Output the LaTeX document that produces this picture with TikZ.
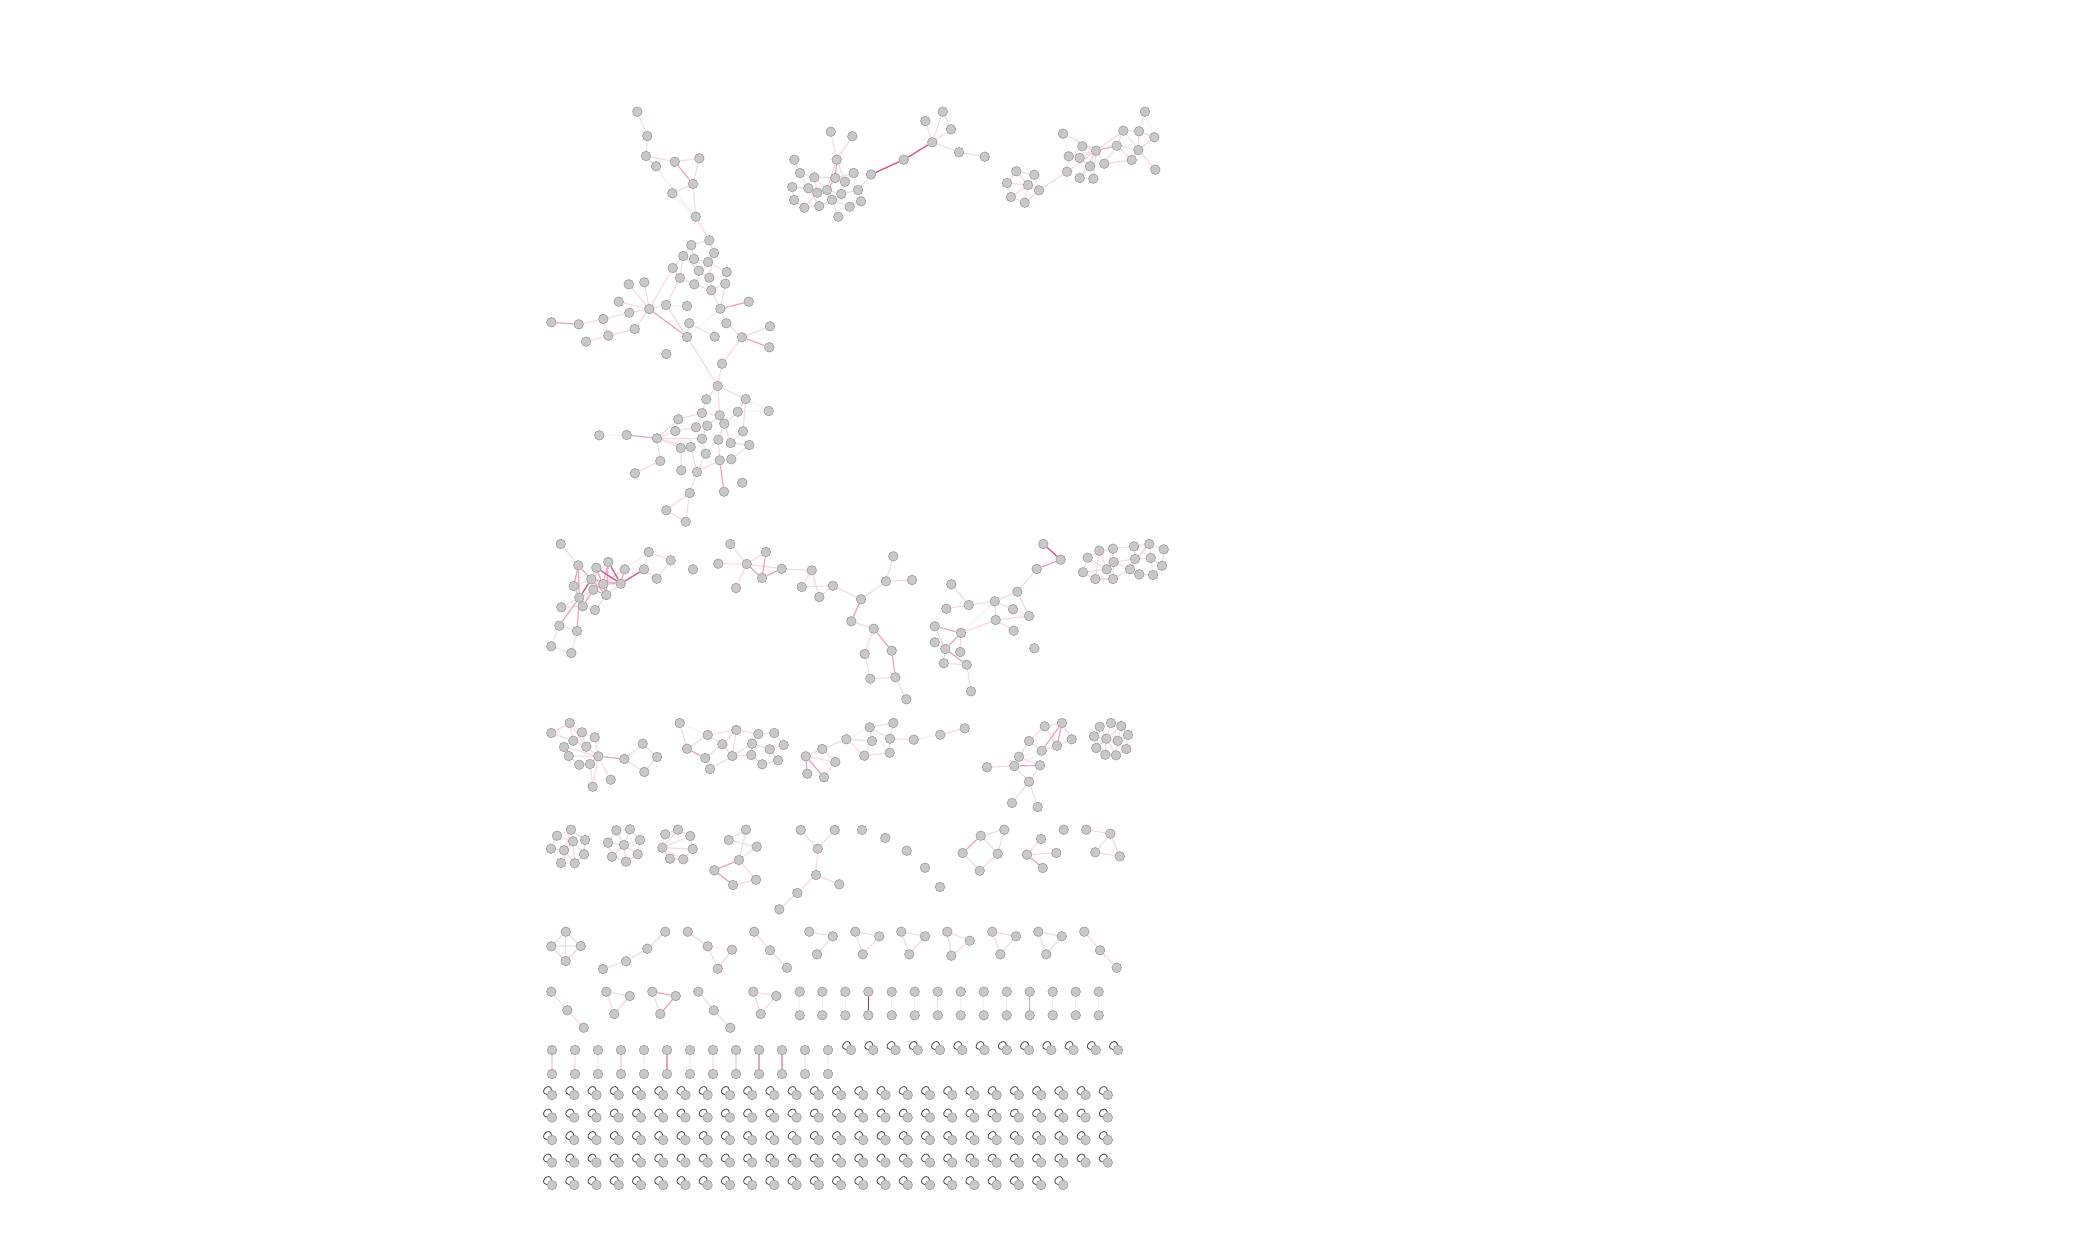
\documentclass[tikz,border=0pt]{standalone}
\pgfdeclarelayer{bg}
\pgfsetlayers{bg,main}
\definecolor{vfill}{HTML}{C8C8C8}
\definecolor{vline}{HTML}{9C9C9C}
\definecolor{pka}{HTML}{FDEDF2}
\definecolor{pkb}{HTML}{FCD6E3}
\definecolor{pkc}{HTML}{F4A0C0}
\definecolor{pkd}{HTML}{E4508C}
\definecolor{pkp}{HTML}{962E8E}
\definecolor{loopc}{HTML}{555555}
\tikzset{
  vtx/.style={circle,fill=vfill,draw=vline,line width=0.6pt,minimum size=9.6pt,inner sep=0pt},
  ea/.style={draw=pka,line width=1.1pt},
  eb/.style={draw=pkb,line width=1.1pt},
  ec/.style={draw=pkc,line width=1.2pt},
  ed/.style={draw=pkd,line width=1.3pt},
  ep/.style={draw=pkp,line width=1.4pt},
  lp/.style={draw=loopc,line width=0.9pt}
}
\begin{document}
\begin{tikzpicture}[x=1pt,y=-1pt]
\useasboundingbox (0,0) rectangle (2100,1233);
% ---------------- vertices ----------------
\foreach \n/\x/\y in {
A1/637.3/111.7, A2/647.3/136, A3/646/156, A4/656/166.3, A5/674.7/161.7, A6/699.3/158.3, A7/693/184, A8/672.3/193.3, A9/695.7/216.7,
B1/709.3/240.3, B2/691.3/245, B3/714/253, B4/683.3/256, B5/694/259, B6/708/262, B7/672.7/268, B8/698.7/270.7, B9/726.7/272, B10/680/278, B11/709.3/277.7, B12/694.3/284.3, B13/725.3/283.7, B14/711.3/290.3, B15/628.7/284.3, B16/644.3/282.3, B17/618.7/301.7, B18/649.3/309, B19/666/305, B20/687/306, B21/720.3/308.7, B22/748.7/301.7, B23/629.3/312.7, B24/603.3/319, B25/578.7/324.3, B26/551.3/322.3, B27/689.3/323.3, B28/726.3/323.3, B29/634.7/329, B30/608.3/335.7, B31/586/341.7, B32/687/337, B33/714.7/336.7, B34/742/337.3, B35/770/326.3, B36/769.3/347.3, B37/666.3/354, B38/722/363.7,
C1/717.7/386, C2/706.3/399.3, C3/745.7/399, C4/702/413, C5/719.7/415.3, C6/737.7/411.7, C7/768.7/411, C8/678.3/419.3, C9/696/427.3, C10/707.3/425.7, C11/724.3/423.7, C12/675.3/431, C13/657/438.3, C14/626.7/435, C15/599.3/435.3, C16/702/438.7, C17/718.3/439.7, C18/730.7/443, C19/743/431.3, C20/749.3/445, C21/680.7/448, C22/690.7/447, C23/705.7/453.7, C24/719.7/460.3, C25/731.3/459.3, C26/660.3/461, C27/635/473.3, C28/681.3/470.3, C29/697/472, C30/724/491.7, C31/742.3/482.7, C32/689.7/493, C33/666.3/510.3, C34/685.7/521.7,
D1/830.7/131.7, D2/852.3/136.3, D3/794.3/159.7, D4/836.7/159.7, D5/800/173, D6/814.3/177.3, D7/835.3/178, D8/853.7/173, D9/845/181.7, D10/792.3/187, D11/808.3/188.3, D12/817.3/192.7, D13/827/190, D14/841.3/194, D15/858/190, D16/794/200, D17/804.3/207.7, D18/819.3/206, D19/832/199.7, D20/849.7/206.7, D21/861/201.3, D22/838.3/216.7, D23/871/174.5,
E1/903.7/159.7, E2/932.3/142.3, E3/925.3/121, E4/942.7/111.7, E5/951/129.3, E6/959/152.3, E7/984.7/156.7,
F1/1016.3/171.3, F2/1034.3/174.7, F3/1007/183, F4/1028/185, F5/1039/190.3, F6/1011/197, F7/1024.7/202.7,
G1/1063/133.7, G2/1082.3/146.3, G3/1096/150.7, G4/1068.7/156.3, G5/1079.7/158, G6/1090/166.3, G7/1104.3/163.7, G8/1067/171.7, G9/1079.7/178, G10/1093.3/178.7, G11/1123.3/130.7, G12/1139/131.3, G13/1154.3/137.3, G14/1145/111.7, G15/1116.7/145.7, G16/1138.3/150, G17/1131.7/160, G18/1155.3/169.7,
H1/560.7/544, H2/578.3/565.3, H3/596.3/567.7, H4/608.3/562, H5/624.7/569.3, H6/644/569.3, H7/648.7/552, H8/670.7/560.3, H9/656.7/578.7, H10/573.7/586, H11/591.3/579.3, H12/603.3/584, H13/593.3/589.7, H14/620.7/583.7, H15/579.3/597.7, H16/606.3/595, H17/561.3/607.3, H18/582.7/606.3, H19/595/610, H20/559.3/625.7, H21/577/631, H22/551.3/646.3, H23/571.3/653,
I1/693/569.3,
J1/718.3/563.7, J2/730.3/544, J3/746.7/564, J4/766/552, J5/762/578, J6/781.7/568.7, J7/736/588,
K1/811.7/570.3, K2/801.7/587, K3/819.3/597, K4/833/585.7, K5/861/599.3, K6/851.3/621.3, K7/893.3/556.3, K8/886/581.3, K9/912/580, K10/873.7/628.7, K11/864.7/654, K12/891.7/650.7, K13/870.3/678.7, K14/895.3/677.3, K15/906.3/699.3,
L1/951.3/584.3, L2/946.3/608.7, L3/968.7/605, L4/994.7/601.3, L5/1017.3/591.7, L6/1013/609.3, L7/1029/616, L8/995.7/620, L9/1013.7/630.7, L10/934.7/626.3, L11/961/633, L12/934.7/642.3, L13/945.3/649, L14/960.3/652, L15/943.7/663.3, L16/966.7/664.7, L17/971/691.3, L18/1034.3/648.3, L19/1043.3/544, L20/1060.7/559.7, L21/1036.7/569,
M1/1087.7/557.7, M2/1099.3/550.7, M3/1113/548.7, M4/1134/546.3, M5/1149.3/544, M6/1163.7/549.3, M7/1113.7/562, M8/1135/559, M9/1150.7/558, M10/1162/565.7, M11/1083/572.3, M12/1095.3/579, M13/1106.7/569.3, M14/1113/579, M15/1130/569.3, M16/1139.3/574.3, M17/1153/575,
N1/551.3/733, N2/569.7/723, N3/582/732.3, N4/573.3/740.7, N5/594.7/737.3, N6/564/747, N7/586.3/746.7, N8/568.7/756, N9/598.3/756.3, N10/579.3/764.7, N11/590/764, N12/610.7/779.7, N13/592.7/786.7, N14/624.3/759, N15/642.7/743.7, N16/657/757, N17/644.3/772,
O1/679.7/723, O2/687/748.7, O3/707.7/735, O4/736.3/730, O5/722.3/744.3, O6/705.3/758, O7/732.3/756, O8/710/769, O9/758.3/734, O10/774.3/733, O11/752/743.7, O12/769.7/749.3, O13/783.7/745, O14/751.3/755, O15/762.3/764.3, O16/778/760.3,
P1/822.3/749, P2/846.3/739.3, P3/805.7/756.3, P4/835.3/762, P5/807.3/773.7, P6/824/777.3, P7/869.7/727.3, P8/893.3/723, P9/872/741, P10/890/738.7, P11/913.7/739.7, P12/864.3/755.7, P13/889.7/752.7, Q1/940.3/734.7, Q2/964.7/728.3,
R1/1044.7/726.3, R2/1062/723, R3/1029/741, R4/1071.7/739.3, R5/1041.7/750.7, R6/1057/745.7, R7/1019/756.7, R8/987/767.3, R9/1014.3/766, R10/1040/765.3, R11/1029/781.7, R12/1012/803, R13/1037.7/807,
S1/1099.7/726.7, S2/1111/723, S3/1121.3/726, S4/1094/736.3, S5/1106.3/738.7, S6/1117.7/740.7, S7/1128/735, S8/1096.3/748, S9/1105.3/754.7, S10/1116/755.3, S11/1126.3/749,
T1/571/829.7, T2/557/835.7, T3/573/841.3, T4/585/840, T5/551/848.7, T6/564/850.3, T7/584/854.3, T8/561/863, T9/574.7/863.3,
U1/616.3/830.3, U2/630/829.3, U3/608/842.7, U4/624/845, U5/640/840, U6/612/856.7, U7/637.7/854.3, U8/626/861.7,
V1/665.3/834.3, V2/678/829.7, V3/690.3/836, V4/662.3/847.7, V5/692.7/849, V6/670/858.7, V7/683.3/859.3,
W1/746/829.7, W2/728.7/840, W3/756.7/846.7, W4/739/860, W5/714.3/870.3, W6/756/879.7, W7/733/885,
X1/800.7/830, X2/834.7/830, X3/817.7/848.7, X4/816/875, X5/839.3/884.3, X6/797.3/893, X7/779.3/909.3,
Y1/862/830, Y2/885.3/838, Y3/906.7/850.7, Y4/925/867.7, Y5/940/887,
Z1/980.7/835.7, Z2/1004.3/829.7, Z3/962.7/853, Z4/997.7/853.7, Z5/979.7/870.7,
AA1/1041/839, AA2/1027/854.7, AA3/1056.3/853, AA4/1042.7/868, AB1/1063.7/829.7,
AC1/1086.3/829.7, AC2/1110.3/833.7, AC3/1095.3/852.3, AC4/1119.7/856.3,
BA1/565.7/931.7, BA2/551.3/946.3, BA3/580.7/946, BA4/565.7/961,
BB1/665.3/931.7, BB2/647.3/948.7, BB3/626/961.3, BB4/603/969,
BC1/687.7/931.7, BC2/707.7/946.3, BC3/732/949.7, BC4/717.7/968.7,
BD1/754.3/931.7, BD2/770/950.3, BD3/787/967.7,
BE1/809.3/931.7, BE2/832.7/936.3, BE3/817/954.3,
BF1/855.3/931.7, BF2/879.3/936.3, BF3/862.7/954.3,
BG1/901.3/931.7, BG2/925/936.3, BG3/909.3/954.3,
BH1/947.3/931.7, BH2/969.7/940.7, BH3/951.3/955.7,
BI1/992.3/931.7, BI2/1016/936.3, BI3/1000.3/954.3,
BJ1/1038.3/931.7, BJ2/1061.7/936.3, BJ3/1046.3/954.3,
BK1/1084.3/931.7, BK2/1100/950.3, BK3/1116.7/967.7,
CA1/551.3/991.7, CA2/567.3/1010.3, CA3/583.7/1027.7,
CB1/606.3/991.7, CB2/629.7/996, CB3/614.3/1014,
CC1/652.3/991.7, CC2/675.7/996, CC3/660.3/1014,
CD1/698.3/991.7, CD2/713.7/1010.3, CD3/730.3/1027.7,
CE1/753.3/991.7, CE2/776.3/996, CE3/760.7/1014}
  {\node[vtx] (\n) at (\x,\y) {};}
% pairs, second row
\foreach \k/\x in {1/799.7,2/822.3,3/845.3,4/868.3,5/891.7,6/914.7,7/937.7,8/960.7,9/983.7,10/1006.7,11/1029.7,12/1052.7,13/1075.7,14/1098.7}
  {\node[vtx] (pt\k) at (\x,991.7) {}; \node[vtx] (pb\k) at (\x,1015.3) {};}
% pairs, third row
\foreach \k in {0,...,12}
  {\node[vtx] (qt\k) at ({552+23*\k},1050) {}; \node[vtx] (qb\k) at ({552+23*\k},1074) {};}
% self loops, first row
\foreach \k in {0,...,12}
  {\node[vtx] (sl\k) at ({851+22.25*\k},1050) {};
   \draw[lp] (sl\k.95) .. controls +(-2,-9) and +(-9,-2) .. (sl\k.175);}
% self loops, grid
\foreach \rr/\yy/\nn in {1/1095/25,2/1117.5/25,3/1140/25,4/1162.5/25,5/1185/23}
  {\foreach \k in {0,...,\nn}
    {\node[vtx] (g\rr x\k) at ({552+22.23*\k},\yy) {};
     \draw[lp] (g\rr x\k.95) .. controls +(-2,-9) and +(-9,-2) .. (g\rr x\k.175);}}
% ---------------- edges ----------------
\begin{pgfonlayer}{bg}
\fill[white] (0,0) rectangle (2100,1233);
\foreach \a/\b in {A8/A9, C3/C7, C6/C7, C14/C15, P11/Q1, H5/H7, B21/B32, B19/B20, A3/A9, B12/B8, B5/B13,
  D8/D23, G1/G4, G13/G14, L4/L11, P7/P13, P2/P7, R5/R7, R6/R9, O1/O3, BC2/BC3, S8/S10, S2/S6,
  qt1/qb1, qt2/qb2, qt4/qb4, qt6/qb6, qt7/qb7, qt11/qb11, qt12/qb12,
  pt1/pb1, pt2/pb2, pt3/pb3, pt5/pb5, pt6/pb6, pt8/pb8, pt9/pb9, pt10/pb10, pt12/pb12, pt13/pb13, pt14/pb14}
  {\draw[ea] (\a) -- (\b);}
\foreach \a/\b in {
  A1/A2, A2/A3, A3/A4, A3/A5, A5/A6, A6/A7, A7/A8, A7/A9, A9/B1, B1/B2, B1/B3, B2/B4, B2/B5, B3/B6, B4/B7, B4/B8, B5/B6, B5/B8, B6/B9, B7/B10, B8/B11, B3/B11, B9/B13, B10/B12, B11/B14, B12/B14, B13/B14, B6/B12, B4/B10, B10/B19, B7/B18, B15/B18, B16/B18, B17/B18, B18/B19, B18/B29, B23/B24, B23/B18, B24/B25, B24/B30, B30/B31, B29/B30, B19/B32, B27/B33, B32/B27, B21/B28, B21/B14, B28/B34, B34/B35, B34/B38, B38/C1, B32/C1, B13/B21,
  C1/C2, C1/C3, C1/C5, C2/C4, C3/C6, C3/C19, C4/C5, C4/C8, C4/C9, C5/C10, C5/C11, C6/C11, C8/C13, C9/C10, C10/C16, C11/C17, C11/C18, C12/C13, C13/C21, C13/C22, C13/C16, C13/C26, C16/C23, C17/C24, C18/C20, C19/C18, C21/C28, C22/C29, C23/C29, C25/C20, C26/C27, C29/C32, C32/C33, C32/C34, C33/C34, C24/C25, C29/C24, C12/C8, C9/C12,
  D1/D4, D2/D4, D3/D5, D4/D13, D4/D9, D5/D6, D5/D11, D6/D7, D6/D13, D7/D8, D7/D9, D9/D14, D10/D11, D10/D16, D11/D12, D12/D13, D13/D14, D13/D19, D14/D15, D15/D21, D16/D17, D17/D18, D18/D19, D19/D20, D20/D21, D19/D22, D12/D17, D11/D18, D15/D23, D6/D12,
  E2/E3, E2/E4, E2/E5, E4/E5, E2/E6, E6/E7,
  F1/F2, F1/F3, F1/F4, F2/F4, F2/F5, F3/F4, F3/F6, F4/F5, F4/F6, F4/F7, F5/F7, F6/F7, F5/G8,
  G3/G1, G3/G2, G3/G4, G3/G5, G3/G6, G3/G8, G3/G9, G3/G10, G3/G7, G3/G11, G4/G5, G4/G8, G5/G6, G6/G9, G7/G17, G7/G15, G11/G12, G11/G15, G11/G16, G12/G13, G12/G14, G12/G16, G13/G16, G15/G16, G16/G17, G16/G18, G15/G17,
  H1/H2, H3/H11, H3/H12, H4/H11, H5/H12, H5/H13, H6/H7, H7/H8, H8/H9, H6/H9, H10/H11, H11/H12, H11/H13, H13/H15, H14/H16, H15/H17, H17/H18, H18/H19, H16/H19, H20/H21, H22/H23, H21/H23, H3/H13, H20/H22,
  J1/J3, J2/J3, J3/J4, J3/J6, J3/J7, J6/K1,
  K1/K2, K1/K3, K2/K4, K4/K5, K5/K8, K8/K7, K8/K9, K6/K10, K10/K11, K11/K13, K13/K14, K14/K15, K3/K4,
  L1/L3, L2/L3, L3/L4, L4/L5, L4/L6, L4/L8, L5/L7, L6/L7, L8/L7, L8/L9, L5/L21, L10/L13, L12/L13, L11/L14, L15/L16, L16/L17, L13/L15, L11/L8,
  M1/M2, M1/M11, M1/M13, M2/M3, M2/M13, M2/M12, M3/M4, M3/M7, M4/M5, M4/M8, M5/M6, M5/M9, M5/M8, M5/M15, M6/M10, M7/M13, M7/M8, M7/M14, M8/M9, M8/M15, M9/M10, M9/M17, M10/M17, M11/M12, M11/M13, M12/M14, M13/M14, M14/M15, M15/M16, M16/M17, M7/M15, M3/M13,
  N1/N2, N1/N4, N2/N3, N2/N4, N2/N7, N3/N5, N3/N7, N4/N6, N4/N7, N5/N7, N5/N9, N6/N8, N6/N9, N7/N9, N8/N10, N8/N9, N9/N11, N9/N12, N9/N13, N10/N11, N11/N13, N14/N15, N14/N17, N15/N16, N16/N17,
  O1/O2, O2/O3, O3/O5, O4/O5, O5/O6, O5/O7, O6/O8, O7/O4, O7/O11, O8/O7, O9/O11, O9/O10, O10/O13, O11/O12, O11/O14, O12/O13, O12/O16, O14/O15, O15/O16, O7/O14, O3/O4, O4/O9,
  P1/P2, P1/P3, P1/P4, P3/P4, P4/P6, P2/P9, P7/P8, P7/P9, P7/P10, P8/P10, P9/P12, P10/P11, P10/P13, P12/P13, P2/P12, Q1/Q2,
  R1/R2, R1/R3, R2/R4, R4/R6, R3/R5, R5/R6, R3/R7, R7/R9, R7/R10, R8/R9, R9/R11, R10/R11, R11/R12, R11/R13, R3/R9, R1/R6,
  S1/S2, S2/S3, S3/S7, S1/S4, S4/S8, S8/S9, S9/S10, S10/S11, S11/S7, S5/S1, S5/S2, S5/S3, S5/S4, S5/S6, S5/S8, S5/S9, S5/S10, S5/S11, S6/S7, S6/S10, S6/S3, S4/S9,
  T1/T2, T1/T3, T1/T4, T2/T3, T2/T5, T3/T6, T3/T7, T3/T8, T3/T9, T4/T7, T5/T6, T6/T8, T6/T9, T7/T9, T1/T6,
  U4/U1, U4/U2, U4/U3, U4/U5, U4/U6, U4/U7, U4/U8, U1/U2, U1/U3, U2/U5, U3/U6, U5/U7, U6/U8, U7/U8,
  V4/V1, V4/V2, V4/V3, V4/V5, V4/V6, V4/V7, V1/V2, V2/V3, V3/V5, V5/V7, V6/V7,
  W1/W2, W2/W3, W1/W4, W4/W3, W4/W6, W7/W6,
  X1/X3, X2/X3, X3/X4, X4/X5, X4/X6, X6/X7,
  Z1/Z2, Z2/Z4, Z3/Z5, Z5/Z4, Z1/Z4,
  AA2/AA1, AA2/AA3, AC1/AC2, AC2/AC4, AC3/AC4, AC2/AC3,
  BA1/BA2, BA1/BA3, BA2/BA4, BA3/BA4, BA1/BA4, BA2/BA3,
  BB1/BB2, BB2/BB3, BB3/BB4, BC1/BC2, BC2/BC4, BC3/BC4, BD1/BD2, BD2/BD3,
  BE1/BE2, BE2/BE3, BF1/BF2, BF2/BF3, BF1/BF3, BG1/BG2, BG2/BG3, BG1/BG3,
  BH1/BH2, BH2/BH3, BH1/BH3, BI1/BI2, BI2/BI3, BI1/BI3, BJ1/BJ2, BJ2/BJ3, BJ1/BJ3, BK1/BK2, BK2/BK3,
  CA1/CA2, CA2/CA3, CB1/CB2, CB1/CB3, CB2/CB3, CC1/CC3, CD1/CD2, CD2/CD3, CE1/CE2, CE2/CE3, CE1/CE3,
  qt0/qb0, qt3/qb3, qt8/qb8, pt7/pb7}
  {\draw[eb] (\a) -- (\b);}
\foreach \a/\b in {A5/A7, B18/B32, B25/B26, B21/B22, B34/B36, C13/C14, C24/C30, D4/D7, D13/D7, H2/H10, H4/H12, H5/H14, H2/H15, H15/H20, H10/H15, H11/H14,
  H12/H14, H4/H16, H2/H11, H13/H18, H15/H18, H15/H21, H11/H16, H13/H16, H12/H16, H3/H16,
  J4/J5, J3/J5, J5/J6, K5/K6, K10/K12, K12/K14, L10/L11, L20/L21, L11/L13, L13/L16, N9/N14, O2/O6, P3/P5, P3/P6, R2/R6, R2/R5, R9/R10,
  W4/W5, W5/W7, Z1/Z3, AA2/AA4, CC1/CC2, CC2/CC3, G3/G15, qt5/qb5, qt9/qb9, qt10/qb10, pt11/pb11}
  {\draw[ec] (\a) -- (\b);}
\foreach \a/\b in {D23/E1, E1/E2, L19/L20, H6/H14, H4/H14, H3/H14, H11/H15}
  {\draw[ed] (\a) -- (\b);}
\draw[ep] (pt4) -- (pb4);
\end{pgfonlayer}
\end{tikzpicture}
\end{document}
